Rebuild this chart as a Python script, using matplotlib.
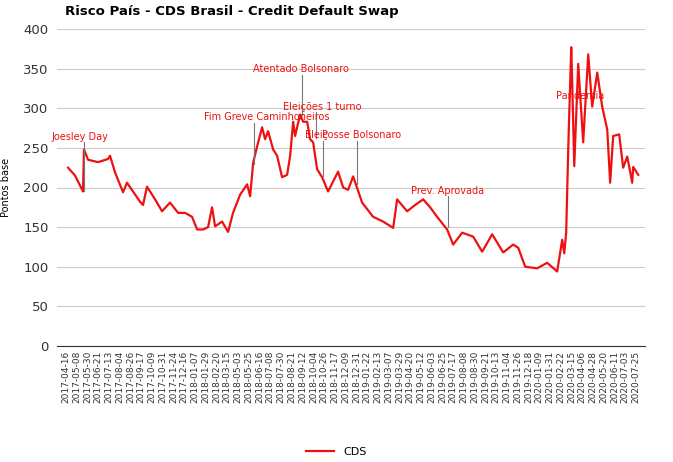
import numpy as np
import matplotlib.pyplot as plt

# tick labels (category axis, one label per step)
tick_labels = ['2017-04-16', '2017-05-08', '2017-05-30', '2017-06-21', '2017-07-13', '2017-08-04', '2017-08-26',
               '2017-09-17', '2017-10-09', '2017-10-31', '2017-11-24', '2017-12-16', '2018-01-07', '2018-01-29',
               '2018-02-20', '2018-03-15', '2018-05-03', '2018-05-25', '2018-06-16', '2018-07-08', '2018-07-30',
               '2018-08-21', '2018-09-12', '2018-10-04', '2018-10-26', '2018-11-17', '2018-12-09', '2018-12-31',
               '2019-01-22', '2019-02-13', '2019-03-07', '2019-03-29', '2019-04-20', '2019-05-12', '2019-06-03',
               '2019-06-25', '2019-07-17', '2019-08-08', '2019-08-30', '2019-09-21', '2019-10-13', '2019-11-04',
               '2019-11-26', '2019-12-18', '2020-01-09', '2020-01-31', '2020-02-22', '2020-03-15', '2020-04-06',
               '2020-04-28', '2020-05-20', '2020-06-11', '2020-07-03', '2020-07-25']

# observation position (in label steps) and CDS value (basis points)
pos = [0.19, 0.84, 1.58, 1.67, 2.05, 2.98, 3.91, 4.09, 4.56, 5.30,
       5.67, 6.23, 6.88, 7.16, 7.53, 8.28, 8.93, 9.67, 10.42, 11.07,
       11.72, 12.19, 12.74, 13.21, 13.58, 13.86, 14.51, 15.07, 15.53, 16.19,
       16.84, 17.12, 17.40, 17.77, 18.23, 18.51, 18.79, 19.26, 19.63, 20.09,
       20.56, 20.84, 21.12, 21.30, 21.77, 22.05, 22.42, 22.70, 22.98, 23.35,
       23.81, 24.37, 25.30, 25.77, 26.23, 26.70, 27.53, 28.56, 29.49, 30.42,
       30.79, 31.72, 32.47, 33.21, 33.86, 34.51, 35.44, 36.00, 36.84, 37.86,
       38.70, 39.63, 40.65, 41.58, 42.05, 42.70, 43.81, 44.74, 45.67, 46.14,
       46.33, 46.51, 46.70, 46.98, 47.07, 47.26, 47.63, 48.09, 48.56, 48.93,
       49.40, 49.86, 50.33, 50.60, 50.88, 51.44, 51.81, 52.19, 52.65, 52.74,
       53.21]
cds = [225, 215, 195, 248, 235, 232, 236, 240, 219, 194,
       206, 195, 182, 178, 201, 185, 170, 181, 168, 168,
       163, 147, 147, 150, 175, 151, 157, 144, 168, 191,
       204, 189, 231, 252, 276, 261, 271, 248, 240, 213,
       216, 240, 283, 265, 292, 283, 283, 261, 257, 223,
       213, 195, 220, 200, 197, 214, 181, 163, 157, 149,
       185, 170, 178, 185, 175, 163, 147, 128, 143, 138,
       119, 141, 118, 128, 124, 100, 98, 105, 94, 134,
       117, 143, 248, 377, 333, 227, 356, 257, 368, 302,
       345, 302, 273, 206, 265, 267, 225, 239, 206, 226,
       216]

# event notes
note_names = ['Joesley Day', 'Fim Greve Caminhoneiros', 'Atentado Bolsonaro', 'Eleições 1 turno',
              'Eleiç', 'Posse Bolsonaro', 'Prev. Aprovada', 'Pandemia']
note_pos = [1.67, 17.5, 21.9, 23.2, 23.9, 27.1, 35.5, None]
note_low = [195, 230, 292, 262, 214, 205, 150, None]
note_tx = [1.3, 18.7, 21.8, 23.8, 22.2, 27.5, 35.5, 47.8]
note_ty = [264, 289, 349, 302, 266, 266, 196, 316]
note_ha = ['center', 'center', 'center', 'center', 'left', 'center', 'center', 'center']

red = '#ee1111'
fig = plt.figure(figsize=(6.73, 4.62), dpi=100)
ax = fig.add_axes([57 / 673, 1 - 346 / 462, 588 / 673, 317 / 462])
ax.plot(pos, cds, color=red, lw=1.6, label='CDS')

for name, x, lo, tx, ty, ha in zip(note_names, note_pos, note_low, note_tx, note_ty, note_ha):
    if x is not None:
        ax.plot([x, x], [lo, ty - 7], color='#777777', lw=0.8)
    ax.text(tx, ty, name, color=red, fontsize=7, ha=ha, va='center')

ax.set_ylim(0, 400)
ax.set_yticks(range(0, 401, 50))
ax.set_xlim(-0.84, 53.84)
ax.set_xticks(range(len(tick_labels)))
ax.set_xticklabels(tick_labels, rotation=90, fontsize=6.5, color='#333333')
ax.tick_params(axis='y', labelsize=9.5, colors='#333333', length=0, pad=6)
ax.tick_params(axis='x', length=0)
ax.grid(axis='y', color='#cccccc', lw=0.8)
ax.set_axisbelow(True)
for s in ['top', 'right', 'left']:
    ax.spines[s].set_visible(False)
ax.spines['bottom'].set_color('#333333')
ax.set_ylabel('Pontos base', fontsize=7, labelpad=9)

fig.text(65 / 673, 1 - 12 / 462, 'Risco País - CDS Brasil - Credit Default Swap', fontsize=9.5,
         fontweight='bold', va='center')
fig.legend(loc='center', bbox_to_anchor=(0.5, 1 - 452 / 462), frameon=False, fontsize=8,
           handlelength=2.5)
fig.savefig('out.png')
